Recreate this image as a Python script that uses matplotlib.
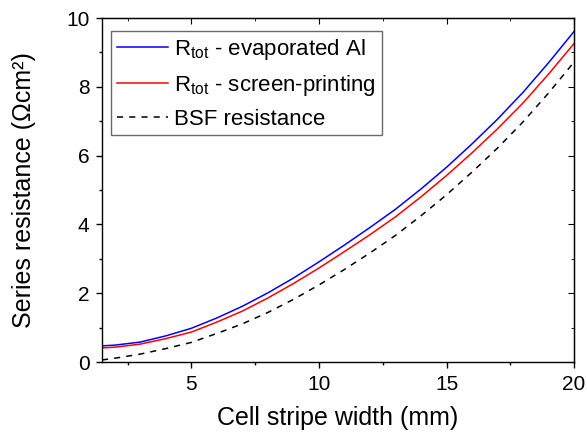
import matplotlib

matplotlib.use("Agg")
import matplotlib.pyplot as plt
from matplotlib.ticker import MultipleLocator

plt.rcParams["font.family"] = ["Liberation Sans", "DejaVu Sans"]
plt.rcParams["mathtext.fontset"] = "custom"
plt.rcParams["mathtext.rm"] = "Liberation Sans"

# cell stripe width (mm) and series resistance (Ohm cm^2)
stripe_width = [1.5, 2, 3, 4, 5, 6, 7, 8, 9, 10, 11, 12, 13, 14, 15, 16, 17, 18, 19, 20]
r_tot_evaporated = [0.47, 0.49, 0.58, 0.76, 0.98, 1.28, 1.62, 2.01, 2.44, 2.91,
                    3.40, 3.91, 4.44, 5.03, 5.66, 6.34, 7.06, 7.84, 8.70, 9.61]
r_tot_screen = [0.41, 0.43, 0.52, 0.68, 0.87, 1.16, 1.48, 1.86, 2.28, 2.73,
                3.21, 3.70, 4.22, 4.80, 5.42, 6.08, 6.78, 7.53, 8.37, 9.26]
r_bsf = [0.06, 0.11, 0.23, 0.39, 0.57, 0.83, 1.11, 1.44, 1.82, 2.24,
         2.69, 3.17, 3.68, 4.25, 4.86, 5.52, 6.22, 6.98, 7.82, 8.72]

fig = plt.figure(figsize=(5.87, 4.36), dpi=100)
ax = fig.add_axes([0.1738, 0.1697, 0.978 - 0.1738, 0.9587 - 0.1697])

ax.plot(stripe_width, r_tot_evaporated, color="#0000ff", lw=1.1,
        label=r"R$_{\mathrm{tot}}$ - evaporated Al")
ax.plot(stripe_width, r_tot_screen, color="#ff0000", lw=1.1,
        label=r"R$_{\mathrm{tot}}$ - screen-printing")
ax.plot(stripe_width, r_bsf, color="black", lw=1.1, ls=(0, (4, 4)),
        label="BSF resistance")

ax.set_xlim(1.5, 20)
ax.set_ylim(0, 10)
ax.xaxis.set_major_locator(MultipleLocator(5))
ax.xaxis.set_minor_locator(MultipleLocator(2.5))
ax.yaxis.set_major_locator(MultipleLocator(2))
ax.yaxis.set_minor_locator(MultipleLocator(1))

ax.tick_params(which="both", direction="out", labelsize=15, width=1.0)
ax.tick_params(which="major", length=4, pad=5)
ax.tick_params(which="minor", length=2.5)
for spine in ax.spines.values():
    spine.set_linewidth(1.0)

# inward ticks on the top and right edges
top = ax.secondary_xaxis("top")
top.set_xticks([5, 10, 15, 20])
top.xaxis.set_minor_locator(MultipleLocator(2.5))
top.tick_params(which="both", direction="in", labeltop=False)
top.tick_params(which="major", length=4)
top.tick_params(which="minor", length=2.5)
right = ax.secondary_yaxis("right")
right.set_yticks([0, 2, 4, 6, 8, 10])
right.yaxis.set_minor_locator(MultipleLocator(1))
right.tick_params(which="both", direction="in", labelright=False)
right.tick_params(which="major", length=4)
right.tick_params(which="minor", length=2.5)

ax.set_xlabel("Cell stripe width (mm)", fontsize=18, labelpad=9)
ax.set_ylabel("Series resistance (\u03a9cm\u00b2)", fontsize=18, labelpad=22)

leg = ax.legend(loc="upper left", bbox_to_anchor=(0.019, 0.962), borderaxespad=0,
                fontsize=16, frameon=True, fancybox=False, edgecolor="#444444",
                borderpad=0.25, handlelength=2.3, handletextpad=0.3,
                labelspacing=0.5)
leg.get_frame().set_linewidth(1.0)

fig.savefig("out.png", dpi=100)
